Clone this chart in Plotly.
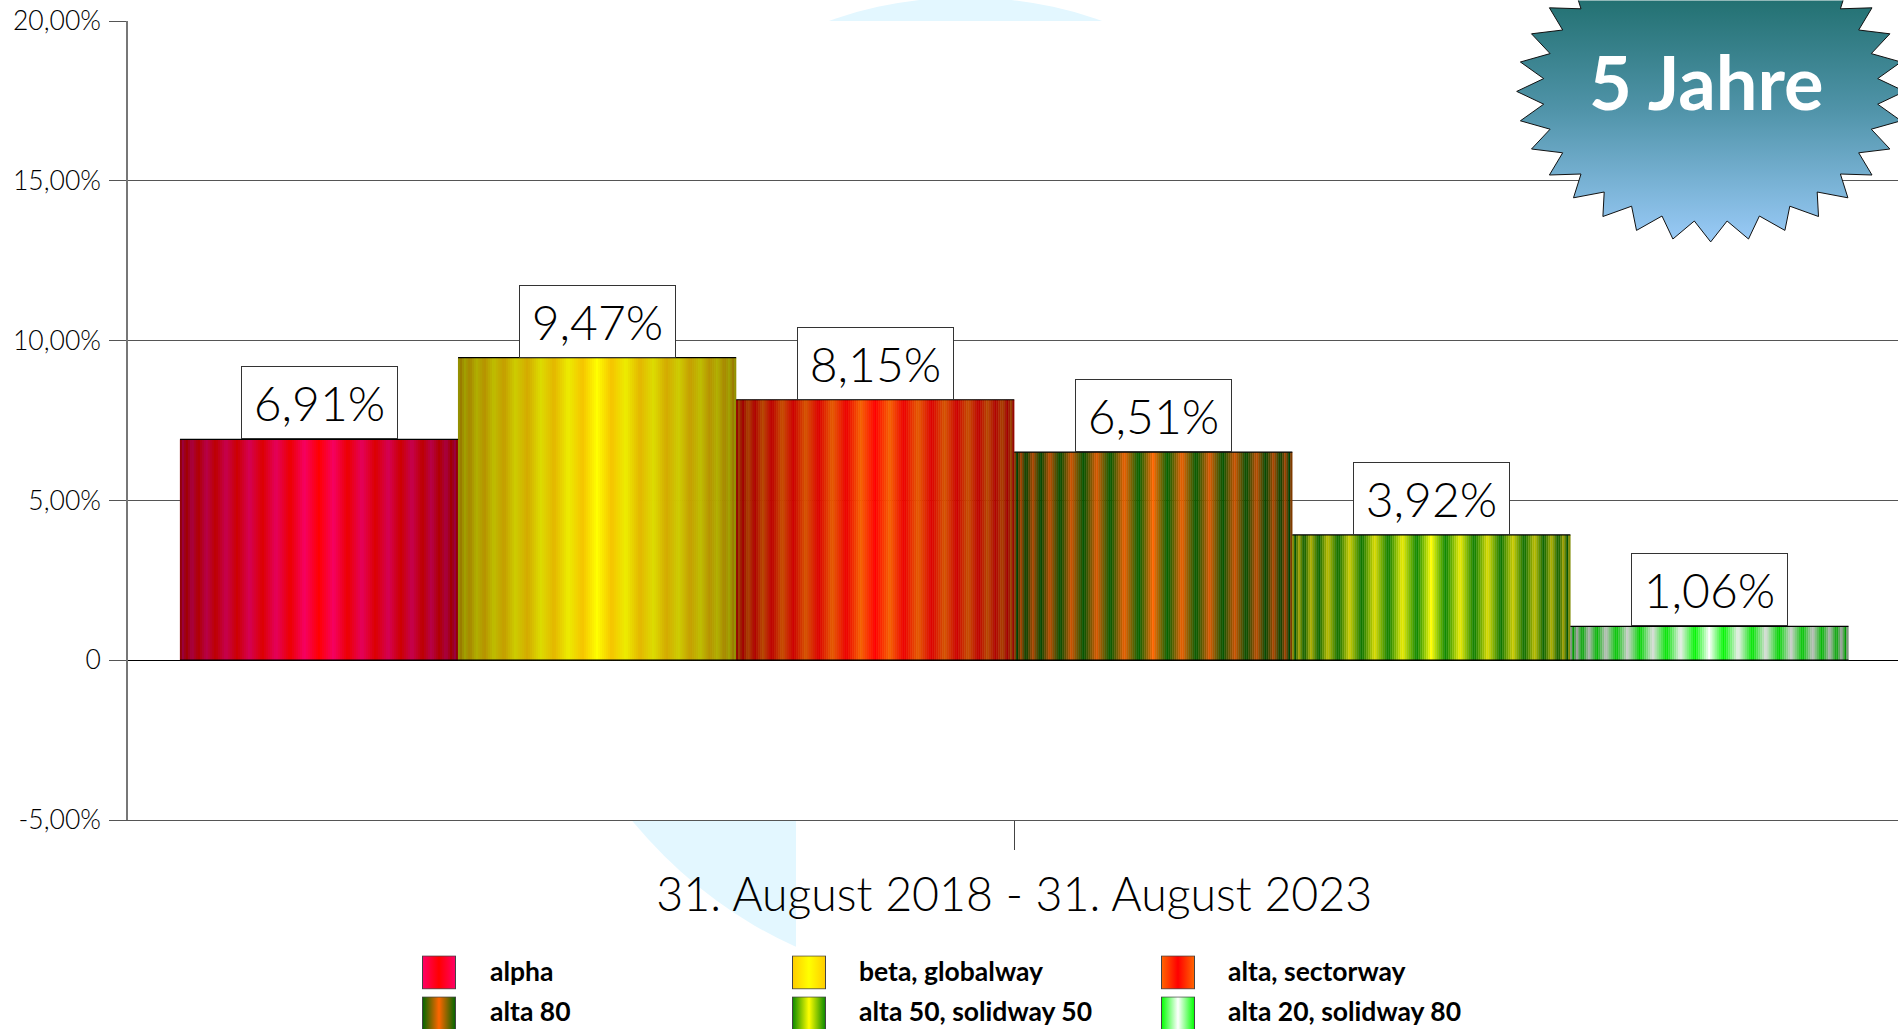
import base64, math
import plotly.graph_objects as go

categories = ["alpha", "beta, globalway", "alta, sectorway", "alta 80", "alta 50, solidway 50", "alta 20, solidway 80"]
values = [6.91, 9.47, 8.15, 6.51, 3.92, 1.06]
value_labels = ["6,91%", "9,47%", "8,15%", "6,51%", "3,92%", "1,06%"]
y_ticks = [-5, 0, 5, 10, 15, 20]
y_tick_labels = ["-5,00%", "0", "5,00%", "10,00%", "15,00%", "20,00%"]
period_label = "31. August 2018 - 31. August 2023"
badge_text = "5 Jahre"

center_colors = ["#ff0000", "#ffff00", "#ff0000", "#ff6600", "#ffff00", "#ffffff"]
band_colors = ["#ff0066", "#ffcc00", "#ff6600", "#006600", "#0a8a00", "#00ff00"]
FONT = "Lato"
W, H = 1898, 1029
L, T, B_Y = 128.0, 20.6, 819.6   # plot box in page pixels
PX_PER_CAT = 278.0


def rgb(c):
    return [int(c[i:i + 2], 16) for i in (1, 3, 5)]


def stripe(c0, c1, d):
    """Colour at relative distance d (0 centre, 1 edge) of a bar."""
    theta = math.degrees(math.asin(min(1, abs(d))))
    ph = (theta / 12.0) % 1.0
    m = 1 - abs(2 * ph - 1)
    br = 1 - 0.45 * (theta / 90) ** 0.9
    a, b = rgb(c0), rgb(c1)
    return "rgb(%d,%d,%d)" % tuple(round((a[k] * (1 - m) + b[k] * m) * br) for k in range(3))


def px(x):
    return (x - L) / (W - L)


def py(y):
    return (B_Y - y) / (B_Y - T)


def svg_uri(s):
    return "data:image/svg+xml;base64," + base64.b64encode(s.encode()).decode()


fig = go.Figure()
N = 139
for i, cat in enumerate(categories):
    xs = [i - 0.5 + (k + 0.5) / N for k in range(N)]
    cols = [stripe(center_colors[i], band_colors[i], (x - i) * 2) for x in xs]
    fig.add_trace(go.Bar(x=xs, y=[values[i]] * N, width=1 / N + 0.001, name=cat, showlegend=False,
                         marker=dict(color=cols, line=dict(width=0)), hoverinfo="skip"))

tx, ty = [], []
for i, v in enumerate(values):
    tx += [i - 0.5, i + 0.5, None, i - 0.5, i + 0.5, None]
    ty += [v, v, None, 0, 0, None]
fig.add_trace(go.Scatter(x=tx, y=ty, mode="lines", line=dict(color="#000000", width=1.2),
                         showlegend=False, hoverinfo="skip"))

ann = []
for i, v in enumerate(values):
    ann.append(dict(x=i, y=v, xref="x", yref="y", text=value_labels[i], showarrow=False, yanchor="bottom",
                    xanchor="center", width=155, height=71, bgcolor="#ffffff", bordercolor="#333333",
                    borderwidth=1, borderpad=0, font=dict(family=FONT, size=48, color="#000000", weight=300)))

ann.append(dict(x=px(1706), y=py(81), xref="paper", yref="paper", text="<b>%s</b>" % badge_text, showarrow=False,
                xanchor="center", yanchor="middle", font=dict(family=FONT, size=74, color="#ffffff")))

images = []
# star badge
cx, cy, rx, ry = 210.7, 91.0, 194.0, 150.5
pts = []
for k in range(64):
    a = math.radians(k * 5.625)
    r = 1.0 if k % 2 == 0 else 0.865
    pts.append("%.1f,%.1f" % (cx + rx * r * math.sin(a), cy + ry * r * math.cos(a)))
star = ('<svg xmlns="http://www.w3.org/2000/svg" width="398" height="250" viewBox="0 0 398 250">'
        '<defs><linearGradient id="g" gradientUnits="userSpaceOnUse" x1="0" y1="0" x2="0" y2="240">'
        '<stop offset="0" stop-color="#237172"/><stop offset="0.45" stop-color="#4f93a8"/>'
        '<stop offset="1" stop-color="#99caf7"/></linearGradient></defs>'
        '<polygon points="%s" fill="url(#g)" stroke="#111111" stroke-width="1"/></svg>' % " ".join(pts))
images.append(dict(source=svg_uri(star), xref="paper", yref="paper", x=px(1500), y=py(0), sizex=398 / (W - L),
                   sizey=250 / (B_Y - T), xanchor="left", yanchor="top", sizing="stretch", layer="above"))

# legend
col_sw = [422, 792, 1161]
col_tx = [488, 857, 1226]
row_sw = [955, 996]
row_tx = [971, 1011]
for i, cat in enumerate(categories):
    c, r = i % 3, i // 3
    sw = ('<svg xmlns="http://www.w3.org/2000/svg" width="34" height="34" viewBox="0 0 34 34">'
          '<defs><linearGradient id="s"><stop offset="0" stop-color="%s"/><stop offset="0.5" stop-color="%s"/>'
          '<stop offset="1" stop-color="%s"/></linearGradient></defs>'
          '<rect x="0.5" y="0.5" width="33" height="33" fill="url(#s)" stroke="#444444"/></svg>'
          % (band_colors[i], center_colors[i], band_colors[i]))
    images.append(dict(source=svg_uri(sw), xref="paper", yref="paper", x=px(col_sw[c]), y=py(row_sw[r]),
                       sizex=34 / (W - L), sizey=34 / (B_Y - T), xanchor="left", yanchor="top",
                       sizing="stretch", layer="above"))
    ann.append(dict(x=px(col_tx[c]), y=py(row_tx[r]), xref="paper", yref="paper", text="<b>%s</b>" % cat,
                    showarrow=False, xanchor="left", yanchor="middle",
                    font=dict(family=FONT, size=26.5, color="#000000")))

shapes = [
    dict(type="circle", xref="paper", yref="paper", x0=px(516.5), x1=px(1414.5), y0=py(-3), y1=py(983),
         fillcolor="#e3f7ff", line=dict(width=0), layer="below"),
    dict(type="rect", xref="paper", yref="paper", x0=0, x1=1, y0=0, y1=1,
         fillcolor="#ffffff", line=dict(width=0), layer="below"),
    dict(type="rect", xref="paper", yref="paper", x0=px(796), x1=1, y0=py(1029), y1=0,
         fillcolor="#ffffff", line=dict(width=0), layer="below"),
]

fig.update_layout(
    width=W, height=H, autosize=False, barmode="overlay", showlegend=False,
    margin=dict(l=L, r=0, t=T, b=H - B_Y, pad=0, autoexpand=False),
    paper_bgcolor="#ffffff", plot_bgcolor="#ffffff",
    annotations=ann, images=images, shapes=shapes,
    font=dict(family=FONT, color="#000000"),
    xaxis=dict(range=[-0.5 - (180 - L) / PX_PER_CAT, 5.5 + (W - 1848.5) / PX_PER_CAT],
               tickmode="array", tickvals=[2.5], ticktext=[period_label],
               ticks="outside", ticklen=29, tickwidth=1, tickcolor="#444444", ticklabelstandoff=5,
               tickfont=dict(family=FONT, size=46.5, color="#000000", weight=300),
               showgrid=False, zeroline=False, showline=True, linecolor="#555555", linewidth=1, fixedrange=True),
    yaxis=dict(range=[-5, 20], tickmode="array", tickvals=y_ticks, ticktext=y_tick_labels,
               ticks="outside", ticklen=17, tickwidth=1, tickcolor="#555555", ticklabelstandoff=3,
               tickfont=dict(family=FONT, size=26.5, color="#000000", weight=300),
               showgrid=True, gridcolor="#555555", gridwidth=1, zeroline=True, zerolinecolor="#000000",
               zerolinewidth=1, showline=True, linecolor="#777777", linewidth=1.5, fixedrange=True),
)
fig.write_html("out.html", config=dict(displayModeBar=False),
               post_script="document.body.style.margin='0';document.body.style.overflow='hidden';")
